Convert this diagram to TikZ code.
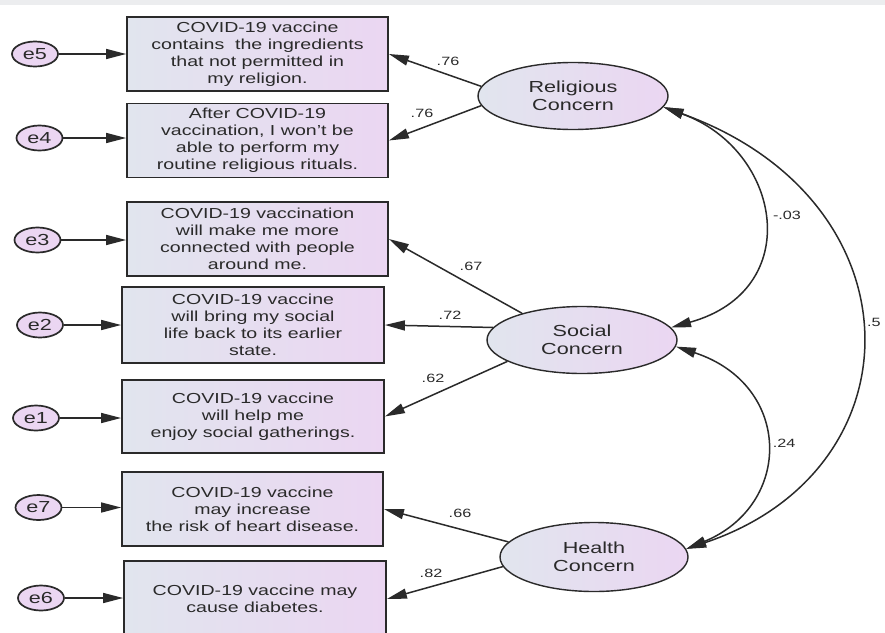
\documentclass[tikz,border=0pt]{standalone}
\usepackage{fontspec}
\setmainfont[FakeStretch=1.35]{Liberation Sans}
\usetikzlibrary{arrows.meta,shapes.geometric}
\definecolor{lc}{HTML}{E1E5EE}
\definecolor{rc}{HTML}{EBD6F2}
\definecolor{ink}{HTML}{2A2A2A}
\definecolor{strip}{HTML}{ECEDEF}
\begin{document}
\begin{tikzpicture}[x=1pt,y=-1pt,
 item/.style={draw=ink, line width=1.8pt, left color=lc, right color=rc, minimum width=261pt, minimum height=74pt, align=center, font=\fontsize{14.5}{17}\selectfont, text=ink, inner sep=2pt},
 err/.style={ellipse, draw=ink, line width=1.7pt, fill=rc, minimum width=46pt, minimum height=25pt, inner sep=0pt, font=\fontsize{16}{18}\selectfont, text=ink},
 lat/.style={ellipse, draw=ink, line width=1.4pt, left color=lc, right color=rc, minimum width=190pt, minimum height=67pt, align=center, inner sep=0pt, font=\fontsize{16}{18}\selectfont, text=ink},
 arr/.style={draw=ink, line width=1.5pt, -{Triangle[length=20pt,width=10pt]}},
 cov/.style={draw=ink, line width=1.5pt, {Triangle[length=20pt,width=10pt]}-{Triangle[length=20pt,width=10pt]}},
 val/.style={font=\fontsize{12}{14}\selectfont, text=ink, inner sep=1pt}
]
\useasboundingbox (0,0) rectangle (885,632);
\fill[white] (0,0) rectangle (885,632);
\fill[strip] (0,0) rectangle (885,5);

% indicator boxes
\node[item] (b1) at (257.5,54) {COVID-19 vaccine\\contains\ \ the ingredients\\that not permitted in\\my religion.};
\node[item] (b2) at (257.5,140.5) {After COVID-19\\vaccination, I won't be\\able to perform my\\routine religious rituals.};
\node[item] (b3) at (257.5,239) {COVID-19 vaccination\\will make me more\\connected with people\\around me.};
\node[item, minimum width=262pt, minimum height=76pt] (b4) at (253,325) {COVID-19 vaccine\\will bring my social\\life back to its earlier\\state.};
\node[item, minimum width=262pt, minimum height=73pt] (b5) at (253,416.5) {COVID-19 vaccine\\will help me\\enjoy social gatherings.};
\node[item, minimum width=261pt] (b6) at (252.5,509) {COVID-19 vaccine\\may increase\\the risk of heart disease.};
\node[item, minimum width=262pt, minimum height=76pt] (b7) at (255,599) {COVID-19 vaccine may\\cause diabetes.};

% error terms
\node[err] (e5) at (35,54) {e5};
\node[err] (e4) at (39.5,138) {e4};
\node[err] (e3) at (37.5,240) {e3};
\node[err] (e2) at (40,325) {e2};
\node[err] (e1) at (36,418) {e1};
\node[err] (e7) at (38.5,507.5) {e7};
\node[err] (e6) at (41,598) {e6};

\draw[arr] (e5) -- (b1.west |- e5);
\draw[arr] (e4) -- (b2.west |- e4);
\draw[arr] (e3) -- (b3.west |- e3);
\draw[arr] (e2) -- (b4.west |- e2);
\draw[arr] (e1) -- (b5.west |- e1);
\draw[arr] (e7) -- (b6.west |- e7);
\draw[arr] (e6) -- (b7.west |- e6);

% latent variables
\node[lat] (rel) at (573,96) {Religious\\Concern};
\node[lat] (soc) at (582,340) {Social\\Concern};
\node[lat, minimum width=188pt, minimum height=69pt] (hea) at (594,557) {Health\\Concern};

% loadings
\draw[arr] (rel.174.5) -- (b1.east);
\draw[arr] (rel.186.6) -- (b2.east);
\draw[arr] (soc.156.5) -- (b3.east);
\draw[arr] (soc.172) -- (b4.east);
\draw[arr] (soc.196.6) -- (b5.east);
\draw[arr] (hea.170) -- (b6.east);
\draw[arr] (hea.186.7) -- (b7.east);

\node[val] (l1) at (448,61) {.76};
\node[val] (l2) at (422,113) {.76};
\node[val] (l3) at (471,266) {.67};
\node[val] (l4) at (450,315) {.72};
\node[val] (l5) at (433,378) {.62};
\node[val] (l6) at (460,513) {.66};
\node[val] (l7) at (431,573) {.82};

% covariances
\draw[cov] (rel.353) .. controls (782,150) and (806,290) .. (soc.8);
\draw[cov] (soc.356) .. controls (793,385) and (793,505) .. (hea.5.6);
\draw[cov] (rel.353) .. controls (922,200) and (922,470) .. (hea.5.6);

\node[val] (c1) at (787,215) {-.03};
\node[val] (c2) at (784,443) {.24};
\node[val, anchor=west] (c3) at (866,322) {.5};
\end{tikzpicture}
\end{document}
